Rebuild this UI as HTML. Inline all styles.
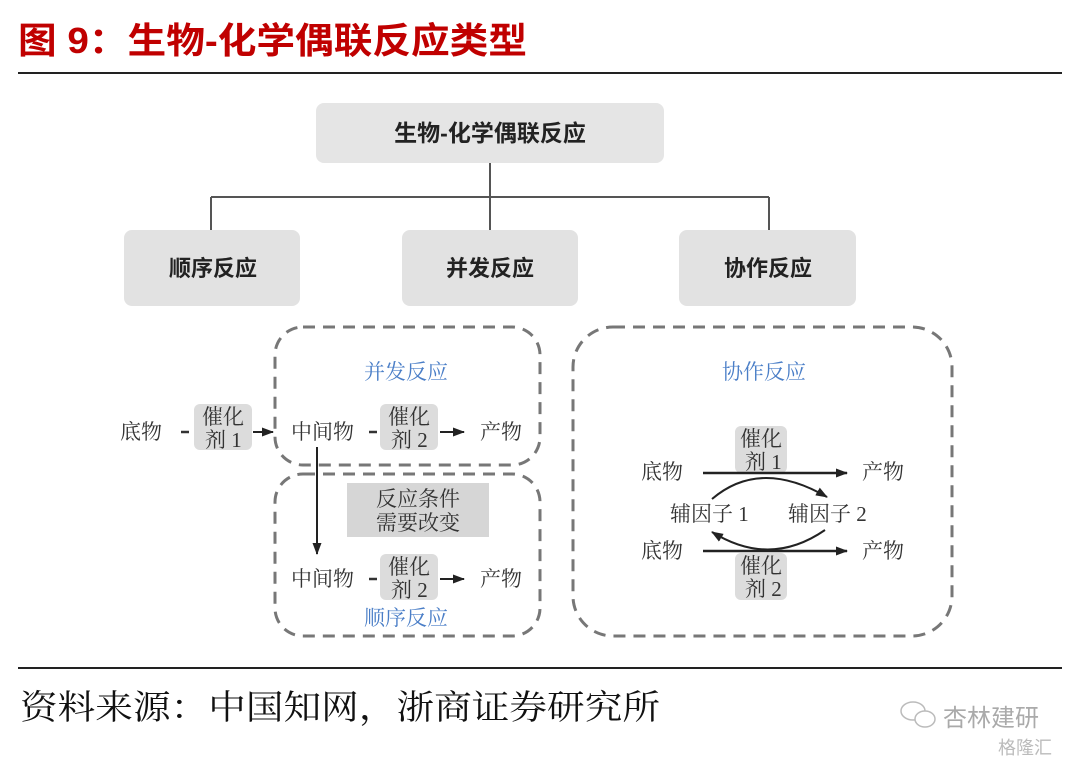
<!DOCTYPE html>
<html><head><meta charset="utf-8"><style>
body{margin:0;background:#fff;width:1080px;height:764px;overflow:hidden}
svg text{font-family:"Liberation Serif","Noto Serif CJK SC",serif}
.s{font-family:"Liberation Sans","Noto Sans CJK SC",sans-serif}
</style></head><body>
<svg width="1080" height="764" viewBox="0 0 1080 764">
<defs><marker id="a" markerWidth="12" markerHeight="9" refX="11" refY="4.5" orient="auto" markerUnits="userSpaceOnUse"><path d="M0,0 L12,4.5 L0,9 Z" fill="#222"/></marker></defs>
<text x="18" y="53" class="s" font-size="36" font-weight="bold" fill="#c00000" textLength="509" lengthAdjust="spacingAndGlyphs">图 9：生物-化学偶联反应类型</text>
<line x1="18" y1="73" x2="1062" y2="73" stroke="#222" stroke-width="2"/>
<line x1="18" y1="668" x2="1062" y2="668" stroke="#222" stroke-width="2"/>
<text x="20" y="719" font-size="34" fill="#111" textLength="640" lengthAdjust="spacingAndGlyphs">资料来源：中国知网，浙商证券研究所</text>
<text x="943" y="726" class="s" font-size="24" fill="#aaa">杏林建研</text>
<text x="998" y="754" class="s" font-size="18" fill="#bbb">格隆汇</text>
<ellipse cx="913" cy="711" rx="12" ry="9" fill="none" stroke="#bbb" stroke-width="1.5"/>
<ellipse cx="925" cy="719" rx="10" ry="8" fill="#fff" stroke="#bbb" stroke-width="1.5"/>

<g class="s" font-weight="bold" fill="#222" text-anchor="middle" font-size="22">
<rect x="316" y="103" width="348" height="60" rx="8" fill="#e5e5e5"/>
<text x="490" y="141" class="s" font-size="23">生物-化学偶联反应</text>
<rect x="124" y="230" width="176" height="76" rx="8" fill="#e2e2e2"/>
<text x="213" y="276" class="s">顺序反应</text>
<rect x="402" y="230" width="176" height="76" rx="8" fill="#e2e2e2"/>
<text x="490" y="276" class="s">并发反应</text>
<rect x="679" y="230" width="177" height="76" rx="8" fill="#e2e2e2"/>
<text x="768" y="276" class="s">协作反应</text>
</g>
<g stroke="#555" stroke-width="2" fill="none">
<line x1="490" y1="163" x2="490" y2="197"/>
<line x1="211" y1="197" x2="769" y2="197"/>
<line x1="211" y1="197" x2="211" y2="230"/>
<line x1="490" y1="197" x2="490" y2="230"/>
<line x1="769" y1="197" x2="769" y2="230"/>
</g>
<g stroke="#777" stroke-width="3" fill="none" stroke-dasharray="12 8">
<rect x="275" y="327" width="265" height="138" rx="28"/>
<rect x="275" y="474" width="265" height="162" rx="28"/>
<rect x="573" y="327" width="379" height="309" rx="40"/>
</g>
<g font-size="21" fill="#333">
<text x="364" y="379" fill="#4a7ec7">并发反应</text>
<text x="364" y="625" fill="#4a7ec7">顺序反应</text>
<text x="722" y="379" fill="#4a7ec7">协作反应</text>
<text x="120" y="439">底物</text>
<rect x="194" y="404" width="58" height="46" rx="6" fill="#dcdcdc"/>
<text x="202" y="424">催化</text><text x="205" y="447">剂 1</text>
<line x1="181" y1="432" x2="189" y2="432" stroke="#333" stroke-width="2.5"/>
<line x1="253" y1="432" x2="273" y2="432" stroke="#222" stroke-width="2" marker-end="url(#a)"/>
<text x="291" y="439">中间物</text>
<line x1="369" y1="432" x2="377" y2="432" stroke="#333" stroke-width="2.5"/>
<rect x="380" y="404" width="58" height="46" rx="6" fill="#dcdcdc"/>
<text x="388" y="424">催化</text><text x="391" y="447">剂 2</text>
<line x1="440" y1="432" x2="464" y2="432" stroke="#222" stroke-width="2" marker-end="url(#a)"/>
<text x="480" y="439">产物</text>
<line x1="317" y1="447" x2="317" y2="554" stroke="#222" stroke-width="2" marker-end="url(#a)"/>
<rect x="347" y="483" width="142" height="54" fill="#d6d6d6"/>
<text x="418" y="506" text-anchor="middle">反应条件</text>
<text x="418" y="530" text-anchor="middle">需要改变</text>
<text x="291" y="586">中间物</text>
<line x1="369" y1="579" x2="377" y2="579" stroke="#333" stroke-width="2.5"/>
<rect x="380" y="554" width="58" height="46" rx="6" fill="#dcdcdc"/>
<text x="388" y="574">催化</text><text x="391" y="597">剂 2</text>
<line x1="440" y1="579" x2="464" y2="579" stroke="#222" stroke-width="2" marker-end="url(#a)"/>
<text x="480" y="586">产物</text>

<rect x="735" y="426" width="52" height="47" rx="6" fill="#dcdcdc"/>
<text x="740" y="446">催化</text><text x="745" y="469">剂 1</text>
<rect x="735" y="553" width="52" height="47" rx="6" fill="#dcdcdc"/>
<text x="740" y="573">催化</text><text x="745" y="596">剂 2</text>
<text x="641" y="479">底物</text><text x="862" y="479">产物</text>
<text x="641" y="558">底物</text><text x="862" y="558">产物</text>
<text x="670" y="521">辅因子 1</text><text x="788" y="521">辅因子 2</text>
<line x1="703" y1="473" x2="847" y2="473" stroke="#222" stroke-width="2.5" marker-end="url(#a)"/>
<line x1="703" y1="551" x2="847" y2="551" stroke="#222" stroke-width="2.5" marker-end="url(#a)"/>
<path d="M712,499 Q760,458 827,497" stroke="#222" stroke-width="2" fill="none" marker-end="url(#a)"/>
<path d="M825,530 Q770,568 712,532" stroke="#222" stroke-width="2" fill="none" marker-end="url(#a)"/>
</g>
</svg>
</body></html>
